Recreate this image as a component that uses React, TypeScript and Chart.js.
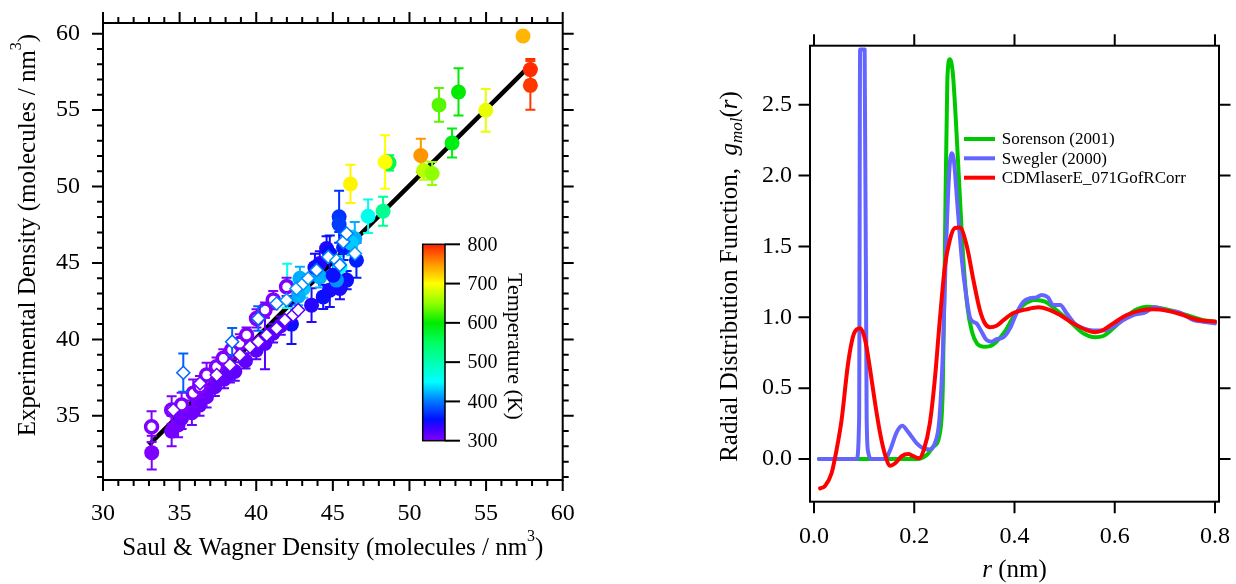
import React, { useEffect, useRef } from "react";
import { Chart, registerables } from "chart.js";

Chart.register(...registerables);

const FONT = "'Liberation Serif', 'Times New Roman', serif";

// ---------------- Left panel data ----------------
const densityXTicks = [30, 35, 40, 45, 50, 55, 60];
const densityYTicks = [35, 40, 45, 50, 55, 60];
const tempTicks = [300, 400, 500, 600, 700, 800];

// filled circles (colored by temperature)
const filledX = [57.41, 57.89, 57.89, 54.98, 53.2, 51.93, 52.78, 50.74, 50.93, 51.48, 48.67, 48.41, 46.15, 47.3, 48.28, 45.41, 45.41, 46.43, 46.54, 45.9, 45.46, 44.8, 44.37, 44.15, 44.59, 43.61, 42.3, 44.15, 43.07, 42.74, 45.46, 45.24, 42.02, 45.02, 45.7, 44.8, 43.83, 42.85, 46.2, 33.18, 34.48, 34.9, 35.13, 35.8, 36.3, 36.76, 37.3, 37.9, 38.28, 38.6, 39.3, 40.0, 40.57, 41.1, 41.6];
const filledY = [59.85, 57.65, 56.62, 54.99, 56.19, 55.34, 52.85, 52.03, 51.05, 50.85, 51.55, 51.61, 50.17, 48.06, 48.39, 48.02, 47.52, 46.58, 45.18, 43.88, 43.33, 43.22, 42.78, 44.97, 45.95, 42.24, 41.0, 44.09, 43.33, 42.83, 44.75, 43.88, 43.5, 44.2, 46.0, 45.6, 44.7, 44.0, 46.3, 32.59, 34.0, 34.4, 34.84, 35.2, 35.7, 36.25, 36.9, 37.4, 37.78, 37.9, 38.6, 39.3, 39.74, 40.4, 40.9];
const filledT = [735, 795, 790, 690, 600, 630, 590, 750, 670, 650, 560, 700, 705, 460, 520, 370, 375, 420, 360, 350, 345, 345, 350, 340, 345, 340, 350, 420, 430, 420, 450, 410, 460, 350, 360, 355, 350, 420, 430, 300, 305, 305, 310, 308, 310, 310, 312, 312, 315, 315, 315, 318, 320, 320, 322];
const filledErr = [0, 0.7, 1.6, 1.4, 1.55, 1.1, 0.95, 1.1, 0.6, 0.75, 0.5, 1.75, 1.25, 1.1, 0.95, 1.7, 0.5, 1.1, 1.15, 0.6, 0.7, 1.1, 0.8, 0.8, 0.8, 1.1, 1.3, 0.7, 0.6, 0.6, 0.7, 0.6, 1.45, 0.9, 0.8, 1.2, 0.9, 0.75, 0.8, 1.1, 1.0, 0.8, 0.7, 0.8, 0.7, 0.7, 0.6, 0.6, 0.6, 0.6, 0.5, 0.6, 1.7, 0.6, 0.6];

// open circles (~300 K)
const openX = [33.17, 34.48, 35.13, 35.89, 36.33, 36.76, 37.41, 37.85, 38.39, 38.93, 39.37, 40.02, 40.57, 41.11, 41.98];
const openY = [34.29, 35.38, 35.71, 36.47, 36.9, 37.67, 38.21, 38.76, 39.3, 39.74, 40.28, 41.37, 41.92, 42.57, 43.44];
const openErr = [1.0, 0.9, 0.8, 0.9, 0.7, 0.8, 0.6, 0.6, 0.6, 0.6, 0.5, 0.6, 0.5, 0.6, 0.6];
const openT = 300;

// open diamonds
const diamondX = [34.59, 35.24, 36.33, 37.42, 38.28, 38.43, 38.93, 39.59, 40.13, 40.13, 40.68, 41.33, 41.33, 41.87, 42.41, 42.74, 41.98, 42.63, 43.07, 43.39, 43.94, 44.7, 45.24, 45.46, 45.68, 45.9, 46.44];
const diamondY = [35.38, 37.82, 37.12, 37.67, 38.32, 39.85, 38.98, 39.52, 39.84, 41.37, 40.28, 40.72, 42.35, 41.26, 41.59, 41.92, 42.57, 43.33, 43.66, 43.99, 44.53, 45.4, 45.18, 44.86, 46.38, 46.93, 45.62];
const diamondT = [310, 390, 310, 310, 310, 390, 310, 310, 310, 390, 315, 315, 400, 315, 320, 320, 410, 410, 410, 410, 400, 400, 410, 400, 400, 400, 410];
const diamondErr = [0, 1.25, 0, 0, 0, 0.9, 0, 0, 0, 0.8, 0, 0, 0, 0, 0, 0, 0, 0, 0, 0, 0, 0, 0, 0, 0, 0, 0];

// fitted line
const fitX = [33.0, 57.5];
const fitY = [33.1, 57.55];

// ---------------- Right panel data ----------------
const rTicks = [0, 0.2, 0.4, 0.6, 0.8];
const gTicks = [0, 0.5, 1.0, 1.5, 2.0, 2.5];

const sorensonR = [0.01, 0.1, 0.2, 0.211, 0.225, 0.238, 0.251, 0.257, 0.261, 0.266, 0.271, 0.277, 0.283, 0.29, 0.298, 0.306, 0.315, 0.325, 0.338, 0.351, 0.364, 0.381, 0.398, 0.418, 0.441, 0.461, 0.484, 0.511, 0.537, 0.561, 0.577, 0.597, 0.62, 0.644, 0.664, 0.684, 0.71, 0.743, 0.777, 0.8];
const sorensonG = [0, 0, 0, 0.002, 0.028, 0.087, 0.18, 0.51, 1.45, 2.675, 2.82, 2.72, 2.39, 1.92, 1.404, 1.075, 0.9, 0.816, 0.793, 0.797, 0.828, 0.9, 1.004, 1.087, 1.122, 1.11, 1.05, 0.969, 0.887, 0.859, 0.868, 0.922, 0.997, 1.056, 1.075, 1.07, 1.05, 1.016, 0.98, 0.969];

const sweglerR = [0.01, 0.085, 0.09, 0.092, 0.101, 0.105, 0.108, 0.115, 0.142, 0.152, 0.165, 0.176, 0.188, 0.205, 0.218, 0.231, 0.241, 0.25, 0.257, 0.263, 0.27, 0.275, 0.279, 0.286, 0.295, 0.303, 0.312, 0.324, 0.334, 0.344, 0.354, 0.364, 0.378, 0.391, 0.404, 0.418, 0.431, 0.444, 0.454, 0.467, 0.477, 0.491, 0.504, 0.521, 0.537, 0.557, 0.577, 0.597, 0.617, 0.637, 0.66, 0.68, 0.704, 0.73, 0.757, 0.777, 0.8];
const sweglerG = [0, 0, 0.28, 2.89, 2.89, 0.3, 0.05, 0, 0, 0.064, 0.19, 0.235, 0.19, 0.11, 0.075, 0.068, 0.11, 0.275, 0.746, 1.45, 2.04, 2.157, 2.11, 1.8, 1.404, 1.17, 0.99, 0.957, 0.9, 0.84, 0.828, 0.845, 0.859, 0.922, 1.028, 1.11, 1.134, 1.14, 1.157, 1.139, 1.087, 1.087, 1.028, 0.953, 0.922, 0.906, 0.906, 0.934, 0.98, 1.016, 1.033, 1.07, 1.047, 1.033, 0.98, 0.969, 0.957];

const cdmR = [0.012, 0.022, 0.035, 0.045, 0.055, 0.068, 0.08, 0.092, 0.102, 0.112, 0.122, 0.132, 0.142, 0.152, 0.162, 0.175, 0.188, 0.198, 0.21, 0.219, 0.231, 0.241, 0.251, 0.261, 0.271, 0.281, 0.291, 0.305, 0.318, 0.331, 0.341, 0.351, 0.364, 0.378, 0.398, 0.424, 0.448, 0.467, 0.491, 0.517, 0.544, 0.561, 0.577, 0.597, 0.624, 0.65, 0.677, 0.704, 0.73, 0.757, 0.777, 0.8];
const cdmG = [-0.207, -0.19, -0.1, 0.064, 0.275, 0.675, 0.887, 0.922, 0.84, 0.63, 0.39, 0.18, 0.028, -0.047, -0.03, 0.02, 0.035, 0.02, 0.005, 0.064, 0.25, 0.56, 0.98, 1.357, 1.546, 1.63, 1.633, 1.5, 1.263, 1.05, 0.957, 0.93, 0.94, 0.98, 1.03, 1.056, 1.07, 1.056, 1.016, 0.957, 0.91, 0.894, 0.91, 0.957, 1.016, 1.047, 1.056, 1.047, 1.023, 0.99, 0.976, 0.97];

const seriesLabels = ["Sorenson (2001)", "Swegler (2000)", "CDMlaserE_071GofRCorr"];
const seriesColors = ["#00c800", "#6464ff", "#ff0000"];

// ---------------- colour map ----------------
const TEMP_STOPS: [number, number[]][] = [
  [300, [128, 0, 255]],
  [330, [64, 0, 255]],
  [355, [0, 16, 255]],
  [400, [0, 120, 255]],
  [450, [0, 255, 255]],
  [500, [0, 255, 176]],
  [550, [0, 255, 96]],
  [600, [0, 235, 0]],
  [650, [144, 255, 0]],
  [700, [255, 255, 0]],
  [750, [255, 150, 0]],
  [800, [255, 32, 0]],
];

function tempColor(t: number): string {
  const s = TEMP_STOPS;
  const rgb = (c: number[]) => `rgb(${c.map((v) => Math.round(v)).join(",")})`;
  if (t <= s[0][0]) return rgb(s[0][1]);
  for (let i = 1; i < s.length; i++) {
    if (t <= s[i][0]) {
      const f = (t - s[i - 1][0]) / (s[i][0] - s[i - 1][0]);
      return rgb(s[i - 1][1].map((v, k) => v + f * (s[i][1][k] - v)));
    }
  }
  return rgb(s[s.length - 1][1]);
}

// ---------------- helpers ----------------
type Part = { t: string; font: string; dy?: number };
function drawRich(ctx: CanvasRenderingContext2D, parts: Part[], x: number, y: number) {
  ctx.textAlign = "left";
  ctx.textBaseline = "alphabetic";
  let w = 0;
  parts.forEach((p) => {
    ctx.font = p.font;
    w += ctx.measureText(p.t).width;
  });
  let cx = x - w / 2;
  parts.forEach((p) => {
    ctx.font = p.font;
    ctx.fillText(p.t, cx, y + (p.dy || 0));
    cx += ctx.measureText(p.t).width;
  });
}

function range(a: number, b: number) {
  const out: number[] = [];
  for (let v = a; v <= b; v++) out.push(v);
  return out;
}

function fixSize(prop: "width" | "height", size: number) {
  return (s: any) => {
    s[prop] = size;
    s.paddingTop = 0;
    s.paddingBottom = 0;
    s.paddingLeft = 0;
    s.paddingRight = 0;
  };
}

function frameTicksPlugin(cfg: { xMajor: number[]; xMinor: number[]; yMajor: number[]; yMinor: number[]; majorLen: number; minorLen: number }) {
  return {
    id: "frameTicks",
    afterDatasetsDraw(chart: any) {
      const { ctx, chartArea: a, scales } = chart;
      const xs = scales.x;
      const ys = scales.y;
      ctx.save();
      ctx.strokeStyle = "#000";
      ctx.lineWidth = 2;
      ctx.lineCap = "butt";
      ctx.strokeRect(a.left, a.top, a.right - a.left, a.bottom - a.top);
      ctx.beginPath();
      const tx = (v: number, len: number) => {
        const p = xs.getPixelForValue(v);
        ctx.moveTo(p, a.bottom);
        ctx.lineTo(p, a.bottom + len);
        ctx.moveTo(p, a.top);
        ctx.lineTo(p, a.top - len);
      };
      const ty = (v: number, len: number) => {
        const p = ys.getPixelForValue(v);
        ctx.moveTo(a.left, p);
        ctx.lineTo(a.left - len, p);
        ctx.moveTo(a.right, p);
        ctx.lineTo(a.right + len, p);
      };
      cfg.xMajor.forEach((v) => tx(v, cfg.majorLen));
      cfg.xMinor.forEach((v) => tx(v, cfg.minorLen));
      cfg.yMajor.forEach((v) => ty(v, cfg.majorLen));
      cfg.yMinor.forEach((v) => ty(v, cfg.minorLen));
      ctx.stroke();
      ctx.restore();
    },
  };
}

const errorBarPlugin = {
  id: "errorBars",
  beforeDatasetDraw(chart: any, args: any) {
    const ds = chart.data.datasets[args.index];
    if (!ds.errorBars) return;
    const { ctx, chartArea: a } = chart;
    const xs = chart.scales.x;
    const ys = chart.scales.y;
    ctx.save();
    ctx.beginPath();
    ctx.rect(a.left, a.top, a.right - a.left, a.bottom - a.top);
    ctx.clip();
    ctx.lineWidth = 2;
    ds.data.forEach((pt: any, i: number) => {
      const e = ds.errorBars[i];
      if (!e) return;
      const px = xs.getPixelForValue(pt.x);
      const y0 = ys.getPixelForValue(pt.y - e);
      const y1 = ys.getPixelForValue(pt.y + e);
      ctx.strokeStyle = Array.isArray(ds.errorColors) ? ds.errorColors[i] : ds.errorColors;
      ctx.beginPath();
      ctx.moveTo(px, y0);
      ctx.lineTo(px, y1);
      ctx.moveTo(px - 5, y0);
      ctx.lineTo(px + 5, y0);
      ctx.moveTo(px - 5, y1);
      ctx.lineTo(px + 5, y1);
      ctx.stroke();
    });
    ctx.restore();
  },
};

const CB = { left: 422.7, right: 445, top: 244.3, bottom: 440.7 };

const leftDecorPlugin = {
  id: "leftDecor",
  afterDraw(chart: any) {
    const ctx: CanvasRenderingContext2D = chart.ctx;
    ctx.save();
    ctx.fillStyle = "#000";
    // x title
    drawRich(
      ctx,
      [
        { t: "Saul & Wagner Density (molecules / nm", font: `25px ${FONT}` },
        { t: "3", font: `16px ${FONT}`, dy: -14 },
        { t: ")", font: `25px ${FONT}` },
      ],
      (chart.chartArea.left + chart.chartArea.right) / 2,
      555
    );
    // y title
    ctx.save();
    ctx.translate(35, 235);
    ctx.rotate(-Math.PI / 2);
    drawRich(
      ctx,
      [
        { t: "Experimental Density (molecules / nm", font: `25px ${FONT}` },
        { t: "3", font: `16px ${FONT}`, dy: -14 },
        { t: ")", font: `25px ${FONT}` },
      ],
      0,
      0
    );
    ctx.restore();

    // colour bar
    const g = ctx.createLinearGradient(0, CB.bottom, 0, CB.top);
    const t0 = tempTicks[0];
    const t1 = tempTicks[tempTicks.length - 1];
    TEMP_STOPS.forEach(([t, c]) => g.addColorStop((t - t0) / (t1 - t0), `rgb(${c.join(",")})`));
    ctx.fillStyle = g;
    ctx.fillRect(CB.left, CB.top, CB.right - CB.left, CB.bottom - CB.top);
    ctx.strokeStyle = "#000";
    ctx.lineWidth = 1.5;
    ctx.strokeRect(CB.left, CB.top, CB.right - CB.left, CB.bottom - CB.top);
    ctx.lineWidth = 2;
    ctx.fillStyle = "#000";
    ctx.font = `20px ${FONT}`;
    ctx.textAlign = "left";
    ctx.textBaseline = "middle";
    tempTicks.forEach((t) => {
      const y = CB.bottom - ((t - t0) / (t1 - t0)) * (CB.bottom - CB.top);
      ctx.beginPath();
      ctx.moveTo(CB.right, y);
      ctx.lineTo(CB.right + 15, y);
      ctx.stroke();
      ctx.fillText(String(t), 467.5, y + 1);
    });
    ctx.save();
    ctx.translate(508, 346.5);
    ctx.rotate(Math.PI / 2);
    drawRich(ctx, [{ t: "Temperature (K)", font: `22px ${FONT}` }], 0, 0);
    ctx.restore();
    ctx.restore();
  },
};

const rightDecorPlugin = {
  id: "rightDecor",
  afterDraw(chart: any) {
    const ctx: CanvasRenderingContext2D = chart.ctx;
    ctx.save();
    ctx.fillStyle = "#000";
    drawRich(
      ctx,
      [
        { t: "r", font: `italic 25px ${FONT}` },
        { t: " (nm)", font: `25px ${FONT}` },
      ],
      (chart.chartArea.left + chart.chartArea.right) / 2,
      577
    );
    ctx.save();
    ctx.translate(119, 276.5);
    ctx.rotate(-Math.PI / 2);
    drawRich(
      ctx,
      [
        { t: "Radial Distribution Function,  ", font: `25px ${FONT}` },
        { t: "g", font: `italic 25px ${FONT}` },
        { t: "mol", font: `italic 17px ${FONT}`, dy: 5 },
        { t: "(", font: `25px ${FONT}` },
        { t: "r", font: `italic 25px ${FONT}` },
        { t: ")", font: `25px ${FONT}` },
      ],
      0,
      0
    );
    ctx.restore();
    // legend
    const rows = [139, 158.3, 177.7];
    ctx.font = `17px ${FONT}`;
    ctx.textAlign = "left";
    ctx.textBaseline = "middle";
    chart.data.datasets.forEach((ds: any, i: number) => {
      const y = rows[i];
      ctx.strokeStyle = ds.borderColor;
      ctx.lineWidth = 4;
      ctx.beginPath();
      ctx.moveTo(346, y);
      ctx.lineTo(377, y);
      ctx.stroke();
      ctx.fillStyle = "#000";
      ctx.fillText(ds.label, 383.7, y + 1);
    });
    ctx.restore();
  },
};

const pts = (xs: number[], ys: number[]) => xs.map((x, i) => ({ x, y: ys[i] }));

export default function App() {
  const leftRef = useRef<HTMLCanvasElement>(null);
  const rightRef = useRef<HTMLCanvasElement>(null);

  useEffect(() => {
    Chart.defaults.font.family = FONT;
    Chart.defaults.color = "#000";

    const tickFont = { family: FONT, size: 24 };

    const left = new Chart(leftRef.current as HTMLCanvasElement, {
      type: "scatter",
      data: {
        datasets: [
          {
            type: "line",
            label: "fit",
            data: pts(fitX, fitY),
            borderColor: "#000",
            borderWidth: 4.5,
            pointRadius: 0,
            fill: false,
            order: 10,
          } as any,
          {
            label: "filled",
            data: pts(filledX, filledY),
            pointStyle: "circle",
            pointRadius: 7.5,
            pointHoverRadius: 7.5,
            pointBackgroundColor: filledT.map(tempColor),
            pointBorderColor: filledT.map(tempColor),
            pointBorderWidth: 0,
            errorBars: filledErr,
            errorColors: filledT.map(tempColor),
            order: 3,
          } as any,
          {
            label: "open",
            data: pts(openX, openY),
            pointStyle: "circle",
            pointRadius: 6,
            pointHoverRadius: 6,
            pointBackgroundColor: "#fff",
            pointBorderColor: tempColor(openT),
            pointBorderWidth: 3.5,
            errorBars: openErr,
            errorColors: tempColor(openT),
            order: 2,
          } as any,
          {
            label: "diamond",
            data: pts(diamondX, diamondY),
            pointStyle: "rectRot",
            pointRadius: 6.5,
            pointHoverRadius: 6.5,
            pointBackgroundColor: "#fff",
            pointBorderColor: diamondT.map(tempColor),
            pointBorderWidth: 1.5,
            errorBars: diamondErr,
            errorColors: diamondT.map(tempColor),
            order: 1,
          } as any,
        ],
      },
      options: {
        responsive: false,
        maintainAspectRatio: false,
        animation: false,
        events: [],
        layout: { padding: { top: 23, right: 55.3, left: 0, bottom: 0 } },
        plugins: { legend: { display: false }, tooltip: { enabled: false } },
        scales: {
          x: {
            type: "linear",
            position: "bottom",
            min: 30,
            max: 60,
            grid: { display: false, drawTicks: false },
            border: { display: false },
            afterBuildTicks: (s: any) => {
              s.ticks = densityXTicks.map((v) => ({ value: v }));
            },
            afterFit: fixSize("height", 104),
            ticks: { font: tickFont, color: "#000", padding: 19, maxRotation: 0, autoSkip: false, callback: (v: any) => String(v) },
          },
          y: {
            type: "linear",
            position: "left",
            min: 30.8,
            max: 60.7,
            grid: { display: false, drawTicks: false },
            border: { display: false },
            afterBuildTicks: (s: any) => {
              s.ticks = densityYTicks.map((v) => ({ value: v }));
            },
            afterFit: fixSize("width", 103),
            ticks: { font: tickFont, color: "#000", padding: 23, autoSkip: false, callback: (v: any) => String(v) },
          },
        },
      },
      plugins: [
        errorBarPlugin,
        frameTicksPlugin({
          xMajor: densityXTicks,
          xMinor: range(31, 59).filter((v) => v % 5 !== 0),
          yMajor: densityYTicks,
          yMinor: range(31, 60).filter((v) => v % 5 !== 0),
          majorLen: 11,
          minorLen: 6,
        }),
        leftDecorPlugin,
      ],
    } as any);

    const lineDs = (label: string, color: string, xs: number[], ys: number[], order: number) => ({
      label,
      data: pts(xs, ys),
      showLine: true,
      borderColor: color,
      backgroundColor: color,
      borderWidth: 4,
      pointRadius: 0,
      pointHoverRadius: 0,
      cubicInterpolationMode: "monotone",
      borderJoinStyle: "round",
      borderCapStyle: "round",
      fill: false,
      order,
    });

    const right = new Chart(rightRef.current as HTMLCanvasElement, {
      type: "scatter",
      data: {
        datasets: [
          lineDs(seriesLabels[0], seriesColors[0], sorensonR, sorensonG, 3),
          lineDs(seriesLabels[1], seriesColors[1], sweglerR, sweglerG, 2),
          lineDs(seriesLabels[2], seriesColors[2], cdmR, cdmG, 1),
        ] as any,
      },
      options: {
        responsive: false,
        maintainAspectRatio: false,
        animation: false,
        events: [],
        layout: { padding: { top: 45.7, right: 17, left: 0, bottom: 0 } },
        plugins: { legend: { display: false }, tooltip: { enabled: false } },
        scales: {
          x: {
            type: "linear",
            position: "bottom",
            min: -0.008,
            max: 0.808,
            grid: { display: false, drawTicks: false },
            border: { display: false },
            afterBuildTicks: (s: any) => {
              s.ticks = rTicks.map((v) => ({ value: v }));
            },
            afterFit: fixSize("height", 584 - 501.7),
            ticks: { font: tickFont, color: "#000", padding: 21, maxRotation: 0, autoSkip: false, callback: (v: any) => Number(v).toFixed(1) },
          },
          y: {
            type: "linear",
            position: "left",
            min: -0.301,
            max: 2.916,
            grid: { display: false, drawTicks: false },
            border: { display: false },
            afterBuildTicks: (s: any) => {
              s.ticks = gTicks.map((v) => ({ value: v }));
            },
            afterFit: fixSize("width", 192),
            ticks: { font: tickFont, color: "#000", padding: 18, autoSkip: false, callback: (v: any) => Number(v).toFixed(1) },
          },
        },
      },
      plugins: [
        frameTicksPlugin({ xMajor: rTicks, xMinor: [], yMajor: gTicks, yMinor: [], majorLen: 11.5, minorLen: 0 }),
        rightDecorPlugin,
      ],
    } as any);

    return () => {
      left.destroy();
      right.destroy();
    };
  }, []);

  return (
    <div style={{ position: "absolute", left: 0, top: 0, width: 1236, height: 584, background: "#fff" }}>
      <canvas ref={leftRef} width={618} height={584} style={{ position: "absolute", left: 0, top: 0, width: 618, height: 584 }} />
      <canvas ref={rightRef} width={618} height={584} style={{ position: "absolute", left: 618, top: 0, width: 618, height: 584 }} />
    </div>
  );
}
